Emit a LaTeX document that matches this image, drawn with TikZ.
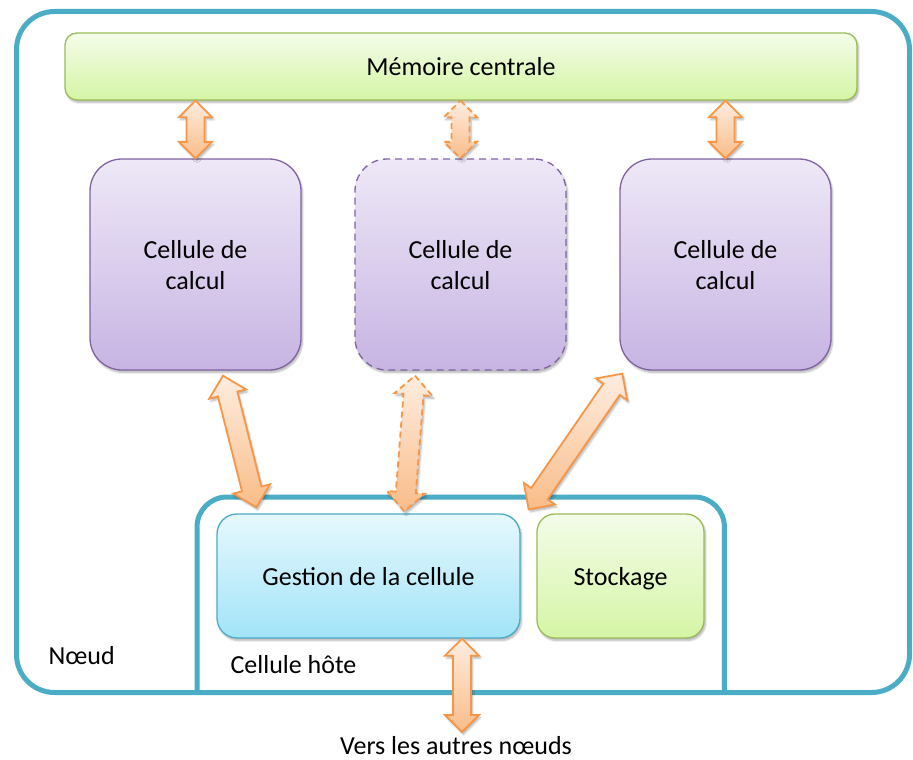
\documentclass[tikz,border=0pt]{standalone}
\usepackage{fontspec}
\setmainfont{Carlito}
\usetikzlibrary{calc,shadows.blur}

\definecolor{nodeblue}{HTML}{4BACC6}
\definecolor{memtop}{HTML}{F4FCE9}
\definecolor{membot}{HTML}{D5F5A5}
\definecolor{memline}{HTML}{9BBB59}
\definecolor{celltop}{HTML}{EEE8F7}
\definecolor{cellbot}{HTML}{C7B4E3}
\definecolor{cellline}{HTML}{8064A2}
\definecolor{gesttop}{HTML}{E6F8FD}
\definecolor{gestbot}{HTML}{A2E4F8}
\definecolor{arrtop}{HTML}{FEEDE0}
\definecolor{arrbot}{HTML}{F9BC88}
\definecolor{arrline}{HTML}{F79646}

\tikzset{
  softshadow/.style={blur shadow={shadow xshift=1.5pt, shadow yshift=-2.5pt,
      shadow blur steps=6, shadow opacity=30}},
  label/.style={font=\fontsize{26}{31}\selectfont, text=black, align=center},
  frame/.style={draw=nodeblue, line width=5pt},
  membox/.style={label, draw=memline, line width=1.3pt, top color=memtop,
      bottom color=membot, rounded corners=12pt, softshadow,
      minimum width=792pt, minimum height=67pt, inner sep=0pt},
  cellbox/.style={label, draw=cellline, line width=1.3pt, top color=celltop,
      bottom color=cellbot, rounded corners=32pt, softshadow, text depth=-2pt,
      minimum width=211pt, minimum height=211pt, inner sep=0pt},
  gestbox/.style={label, draw=nodeblue, line width=1.3pt, top color=gesttop,
      bottom color=gestbot, rounded corners=20pt, softshadow, text depth=-5pt,
      minimum width=303pt, minimum height=124pt, inner sep=0pt},
  storebox/.style={label, draw=memline, line width=1.3pt, top color=memtop,
      bottom color=membot, rounded corners=18pt, softshadow, text depth=-5pt,
      minimum width=167pt, minimum height=124pt, inner sep=0pt},
  linkarrow/.style={draw=arrline, line width=1.8pt, top color=arrtop,
      bottom color=arrbot, line join=miter, softshadow},
  dashedlink/.style={dash pattern=on 6pt off 4pt},
  dashedcell/.style={dash pattern=on 7pt off 5pt},
}

% double block arrow between two named points:
% [options]{from}{to}{head half width}{shaft half width}{head length}
\newcommand{\blockarrow}[6][]{%
  \coordinate (ba-h1) at ($(#2)!#6!(#3)$);
  \coordinate (ba-h2) at ($(#3)!#6!(#2)$);
  \draw[linkarrow,#1] (#2) -- ($(ba-h1)!#4!90:(#3)$) -- ($(ba-h1)!#5!90:(#3)$)
    -- ($(ba-h2)!#5!-90:(#2)$) -- ($(ba-h2)!#4!-90:(#2)$) -- (#3)
    -- ($(ba-h2)!#4!90:(#2)$) -- ($(ba-h2)!#5!90:(#2)$)
    -- ($(ba-h1)!#5!-90:(#3)$) -- ($(ba-h1)!#4!-90:(#3)$) -- cycle;
}

\begin{document}
\begin{tikzpicture}[x=1pt,y=-1pt]
\useasboundingbox (0,0) rectangle (913,760);

% the node frame
\node[frame, rounded corners=38pt, minimum width=893pt, minimum height=681pt,
      anchor=north west, inner sep=0pt] (noeud) at (14,9) {};

% host cell frame: rounded on top, closed by the node frame below
\node[minimum width=527pt, minimum height=193pt, anchor=north west,
      inner sep=0pt] (host) at (197,497) {};
\draw[frame, rounded corners=30pt] (host.south west) -- (host.north west)
  -- (host.north east) -- (host.south east);

% main memory
\node[membox] (mem) at (461,66.5) {Mémoire centrale};

% compute cells
\node[cellbox] (c1) at (195.5,264.5) {Cellule de\\calcul};
\node[cellbox, dashedcell] (c2) at (460.5,264.5) {Cellule de\\calcul};
\node[cellbox] (c3) at (725.5,264.5) {Cellule de\\calcul};

% host cell contents
\node[gestbox] (gest) at (368.5,576) {Gestion de la cellule};
\node[storebox] (store) at (620.5,576) {Stockage};

% labels
\node[label, anchor=west] (noeudlbl) at (45,656) {Nœud};
\node[label, anchor=west] (hostlbl) at (227,665) {Cellule hôte};
\node[label] (ext) at (456,746) {Vers les autres nœuds};

% memory links
\coordinate (m1) at (c1.north |- mem.south);
\coordinate (m2) at (c2.north |- mem.south);
\coordinate (m3) at (c3.north |- mem.south);
\blockarrow{m1}{c1.north}{16.5pt}{9pt}{16.5pt}
\blockarrow[dashedlink]{m2}{c2.north}{16.5pt}{9pt}{16.5pt}
\blockarrow{m3}{c3.north}{16.5pt}{9pt}{16.5pt}

% links between compute cells and cell management
\coordinate (l1a) at ([shift={(27.5,5)}]c1.south);
\coordinate (l1b) at ([shift={(40,-6)}]gest.north west);
\coordinate (l2a) at ([shift={(-45.5,5)}]c2.south);
\coordinate (l2b) at ([shift={(188,-2)}]gest.north west);
\coordinate (l3a) at ([shift={(3,3)}]c3.south west);
\coordinate (l3b) at ([shift={(8,-4)}]gest.north east);
\blockarrow{l1a}{l1b}{19pt}{10pt}{19pt}
\blockarrow[dashedlink]{l2a}{l2b}{19pt}{10pt}{19pt}
\blockarrow{l3a}{l3b}{19pt}{10pt}{19pt}

% link to the other nodes
\coordinate (outlink) at (462,732);
\coordinate (gestout) at (gest.south -| outlink);
\blockarrow{gestout}{outlink}{17pt}{9pt}{17pt}
\end{tikzpicture}
\end{document}
